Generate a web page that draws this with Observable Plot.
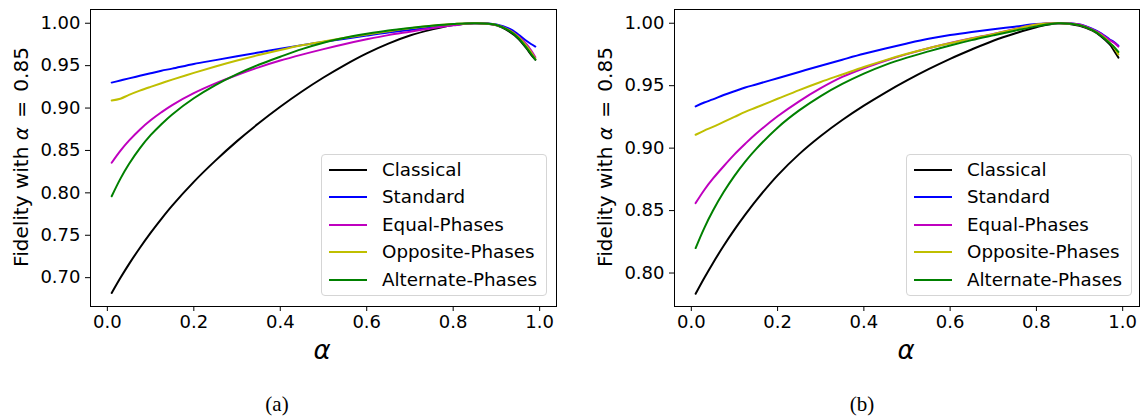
<!DOCTYPE html>
<html>
<head>
<meta charset="utf-8">
<script src="https://cdn.jsdelivr.net/npm/d3@7"></script>
<script src="https://cdn.jsdelivr.net/npm/@observablehq/plot@0.6"></script>
<style>
  body { margin: 0; background: white; }
  #root { position: relative; width: 1140px; height: 416px; background: white; font-family: "DejaVu Sans", sans-serif; color: black; overflow: hidden; }
  .panel { position: absolute; top: 0; }
  .ylab { position: absolute; font-size: 20px; white-space: nowrap; transform: translate(-50%, -50%) rotate(-90deg); }
  .ylab .eq { margin: 0 3px; }
  .xlab { position: absolute; font-size: 26px; font-style: italic; transform: translate(-50%, -50%); }
  .cap { position: absolute; font-family: "Liberation Serif", "DejaVu Serif", serif; font-size: 21px; transform: translate(-50%, -50%); }
  .legend { position: absolute; border: 1px solid #d5d5d5; border-radius: 4px; background: rgba(255,255,255,0.85); box-sizing: border-box; }
  .lrow { position: absolute; left: 0; height: 0; }
  .lline { position: absolute; height: 2px; top: -1px; }
  .ltext { position: absolute; font-size: 18.3px; white-space: nowrap; transform: translateY(-50%); line-height: 1; }
</style>
</head>
<body>
<div id="root"></div>
<script>
// ---------- data ----------
const seriesNames = ["Classical", "Standard", "Equal-Phases", "Opposite-Phases", "Alternate-Phases"];
const seriesColors = ["#000000", "#0000ff", "#bf00bf", "#bfbf00", "#008000"];

const alphaGrid = [0.01, 0.03, 0.05, 0.075, 0.1, 0.125, 0.15, 0.2, 0.25, 0.3, 0.35, 0.4, 0.45, 0.5, 0.55, 0.6, 0.65, 0.7, 0.75, 0.8, 0.85, 0.9, 0.93, 0.95, 0.97, 0.98, 0.99];

// Panel (a)
const classicalA = [0.682, 0.6996, 0.716, 0.735, 0.7528, 0.7694, 0.785, 0.813, 0.838, 0.861, 0.882, 0.9015, 0.9195, 0.936, 0.951, 0.9645, 0.976, 0.9855, 0.9925, 0.998, 1.0, 0.9975, 0.990, 0.982, 0.970, 0.963, 0.957];
const standardA = [0.930, 0.9325, 0.935, 0.938, 0.941, 0.944, 0.9465, 0.952, 0.9565, 0.961, 0.9655, 0.970, 0.9742, 0.978, 0.9818, 0.9855, 0.989, 0.992, 0.995, 0.998, 1.0, 0.9985, 0.9935, 0.987, 0.979, 0.9755, 0.9725];
const equalA = [0.8355, 0.8495, 0.8615, 0.8745, 0.8855, 0.895, 0.9035, 0.9175, 0.929, 0.939, 0.948, 0.956, 0.963, 0.9695, 0.9755, 0.981, 0.986, 0.990, 0.994, 0.9975, 1.0, 0.998, 0.992, 0.985, 0.975, 0.968, 0.960];
const oppositeA = [0.909, 0.911, 0.9155, 0.9205, 0.925, 0.9293, 0.9335, 0.9415, 0.949, 0.956, 0.9625, 0.9685, 0.974, 0.9785, 0.9828, 0.9868, 0.9905, 0.994, 0.997, 0.999, 1.0, 0.998, 0.9915, 0.984, 0.973, 0.966, 0.958];
const alternateA = [0.796, 0.8165, 0.834, 0.8525, 0.868, 0.881, 0.8925, 0.9115, 0.927, 0.940, 0.951, 0.9605, 0.9695, 0.977, 0.9828, 0.9875, 0.9915, 0.9945, 0.997, 0.999, 1.0, 0.998, 0.991, 0.983, 0.971, 0.964, 0.957];

// Panel (b)
const classicalB = [0.7834, 0.796, 0.8079, 0.8218, 0.8347, 0.8467, 0.858, 0.8782, 0.8952, 0.9097, 0.9225, 0.934, 0.9445, 0.9542, 0.9632, 0.9715, 0.979, 0.986, 0.9918, 0.9968, 1.0, 0.998, 0.994, 0.9895, 0.983, 0.978, 0.9725];
const standardB = [0.9334, 0.9365, 0.939, 0.9425, 0.9455, 0.9485, 0.951, 0.956, 0.961, 0.966, 0.9708, 0.9755, 0.9798, 0.9838, 0.9875, 0.9905, 0.993, 0.9952, 0.9972, 0.9993, 1.0, 0.999, 0.9955, 0.992, 0.987, 0.985, 0.982];
const equalB = [0.856, 0.8665, 0.8755, 0.8855, 0.895, 0.9035, 0.9115, 0.9255, 0.9375, 0.948, 0.957, 0.964, 0.970, 0.9753, 0.980, 0.9842, 0.988, 0.9915, 0.9955, 0.999, 1.0, 0.999, 0.995, 0.9915, 0.9865, 0.9845, 0.9813];
const oppositeB = [0.9107, 0.914, 0.917, 0.921, 0.925, 0.929, 0.9325, 0.9395, 0.9465, 0.953, 0.959, 0.965, 0.9705, 0.9755, 0.980, 0.984, 0.9878, 0.9913, 0.9953, 0.999, 1.0, 0.9985, 0.9945, 0.9905, 0.9845, 0.9805, 0.975];
const alternateB = [0.820, 0.836, 0.8498, 0.8648, 0.8778, 0.8892, 0.8992, 0.9164, 0.9302, 0.9417, 0.9514, 0.9597, 0.9667, 0.9725, 0.9775, 0.9822, 0.9865, 0.9903, 0.994, 0.9975, 1.0, 0.9985, 0.9945, 0.990, 0.984, 0.981, 0.977];

const xTicks = [0, 0.2, 0.4, 0.6, 0.8, 1.0];
const yTicksA = [0.70, 0.75, 0.80, 0.85, 0.90, 0.95, 1.00];
const yTicksB = [0.80, 0.85, 0.90, 0.95, 1.00];

const yLabelText = "Fidelity with <i>α</i><span class=\"eq\"> = </span>0.85";
const xLabelText = "α";
const captions = ["(a)", "(b)"];

// ---------- build ----------
function rows(seriesArrays) {
  const out = [];
  seriesArrays.forEach((arr, si) => {
    arr.forEach((f, i) => out.push({ s: seriesNames[si], a: alphaGrid[i], f }));
  });
  return out;
}

const panels = [
  { left: 0, data: rows([classicalA, standardA, equalA, oppositeA, alternateA]), yDomain: [0.666, 1.0162], yTicks: yTicksA, marginLeft: 90, marginRight: 14,
    ylabX: 21, xlabX: 322, capX: 277, legend: { left: 321, top: 154, width: 226, height: 142 } },
  { left: 570, data: rows([classicalB, standardB, equalB, oppositeB, alternateB]), yDomain: [0.7732, 1.011], yTicks: yTicksB, marginLeft: 104, marginRight: 1,
    ylabX: 605, xlabX: 906, capX: 862, legend: { left: 906, top: 154, width: 226, height: 142 } }
];

const root = document.getElementById("root");

panels.forEach((p, pi) => {
  const chart = Plot.plot({
    width: 570,
    height: 340,
    marginTop: 9,
    marginBottom: 34,
    marginLeft: p.marginLeft,
    marginRight: p.marginRight,
    style: { fontFamily: "DejaVu Sans", fontSize: "18px", color: "black", background: "white", overflow: "visible" },
    x: { domain: [-0.039, 1.039] },
    y: { domain: p.yDomain },
    marks: [
      ...seriesNames.map((name, si) => Plot.line(p.data.filter(d => d.s === name), {
        x: "a", y: "f", stroke: seriesColors[si], strokeWidth: 2, curve: "catmull-rom"
      })),
      Plot.frame({ stroke: "black", strokeWidth: 1 }),
      Plot.axisX({ ticks: xTicks, tickFormat: d3.format(".1f"), tickSize: 5, tickPadding: 4, label: null, fontSize: 18 }),
      Plot.axisY({ ticks: p.yTicks, tickFormat: d3.format(".2f"), tickSize: 5, tickPadding: 5, label: null, fontSize: 18 })
    ]
  });
  const wrap = document.createElement("div");
  wrap.className = "panel";
  wrap.style.left = p.left + "px";
  wrap.appendChild(chart);
  root.appendChild(wrap);

  const yl = document.createElement("div");
  yl.className = "ylab";
  yl.style.left = p.ylabX + "px";
  yl.style.top = "157px";
  yl.innerHTML = yLabelText;
  root.appendChild(yl);

  const xl = document.createElement("div");
  xl.className = "xlab";
  xl.style.left = p.xlabX + "px";
  xl.style.top = "350px";
  xl.textContent = xLabelText;
  root.appendChild(xl);

  const cap = document.createElement("div");
  cap.className = "cap";
  cap.style.left = p.capX + "px";
  cap.style.top = "404px";
  cap.textContent = captions[pi];
  root.appendChild(cap);

  const lg = document.createElement("div");
  lg.className = "legend";
  lg.style.left = p.legend.left + "px";
  lg.style.top = p.legend.top + "px";
  lg.style.width = p.legend.width + "px";
  lg.style.height = p.legend.height + "px";
  seriesNames.forEach((name, si) => {
    const r = document.createElement("div");
    r.className = "lrow";
    r.style.top = (15 + si * 27.4) + "px";
    const ln = document.createElement("div");
    ln.className = "lline";
    ln.style.left = "7px";
    ln.style.width = "38px";
    ln.style.background = seriesColors[si];
    const tx = document.createElement("div");
    tx.className = "ltext";
    tx.style.left = "60px";
    tx.textContent = name;
    r.appendChild(ln);
    r.appendChild(tx);
    lg.appendChild(r);
  });
  root.appendChild(lg);
});
</script>
</body>
</html>
